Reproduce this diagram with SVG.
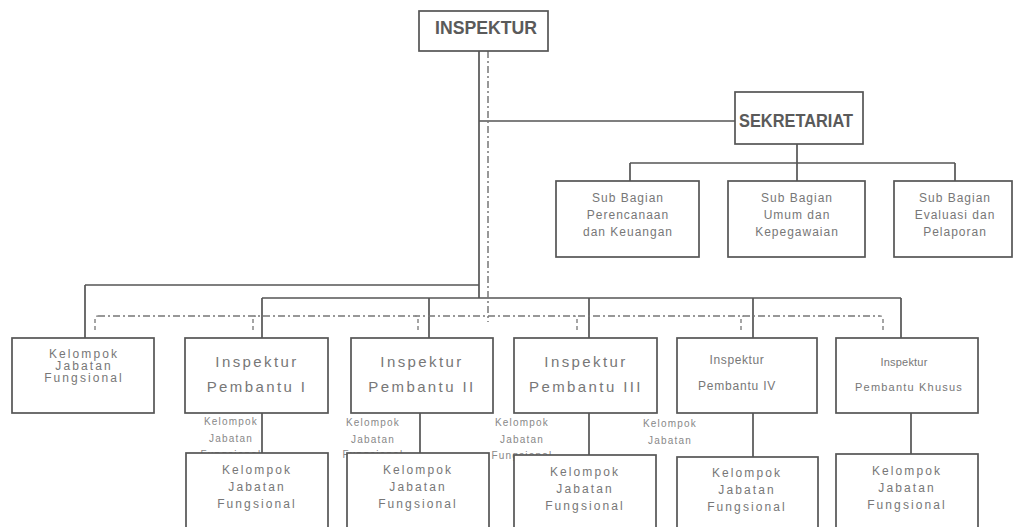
<svg xmlns="http://www.w3.org/2000/svg" width="1014" height="527" viewBox="0 0 1014 527">
<style>
.box{fill:#fff;stroke:#555;stroke-width:1.7}
.ln{fill:none;stroke:#555;stroke-width:1.7}
.dd{fill:none;stroke:#777;stroke-width:1.5;stroke-dasharray:7 3 2 3}
.hk{fill:none;stroke:#888;stroke-width:1.5;stroke-dasharray:4 3}
.b{font-family:"Liberation Sans",Arial,sans-serif;font-weight:bold;fill:#5a5a5a;text-anchor:middle}
.t{font-family:"Liberation Sans",Arial,sans-serif;fill:#777;text-anchor:middle}
.big{font-size:15px;letter-spacing:2.4px}
.kjf{font-size:12px;letter-spacing:2.1px}
.sub{font-size:12px;letter-spacing:1px}
.lab{font-size:10px;letter-spacing:1.2px;fill:#888}
</style>
<rect width="1014" height="527" fill="#fff"/>
<g id="connectors">
<path class="ln" d="M479,51 V298 M479,121 H735 M85,285 H479 M85,285 V338 M262,298 H901 M262,298 V338 M429,298 V338 M589,298 V338 M753,298 V338 M901,298 V338"/>
<path class="ln" d="M797,144 V163 M630,163 H955 M630,163 V181 M797,163 V181 M955,163 V181"/>
<path class="ln" d="M262,413 V453 M420,413 V453 M589,413 V455 M753,413 V457 M911,413 V454"/>
<path class="dd" d="M488,51 V322"/>
<path class="dd" d="M98,316 H880"/>
<path class="hk" d="M95,330 V319 Q95,316 98,316 M253,330 V319 Q253,316 256,316 M741,330 V319 Q741,316 744,316 M418,330 V319 Q418,316 415,316 M577,330 V319 Q577,316 574,316 M883,330 V319 Q883,316 880,316"/>
</g>
<g id="labels">
<text class="t lab" x="231" y="425">Kelompok</text>
<text class="t lab" x="231" y="442">Jabatan</text>
<text class="t lab" x="231" y="458">Fungsional</text>
<text class="t lab" x="373" y="426">Kelompok</text>
<text class="t lab" x="373" y="443">Jabatan</text>
<text class="t lab" x="373" y="458">Fungsional</text>
<text class="t lab" x="522" y="426">Kelompok</text>
<text class="t lab" x="522" y="443">Jabatan</text>
<text class="t lab" x="522" y="459">Fungsional</text>
<text class="t lab" x="670" y="427">Kelompok</text>
<text class="t lab" x="670" y="444">Jabatan</text>
</g>
<g id="inspektur">
<rect class="box" x="419" y="11" width="129" height="40"/>
<text class="b" x="486" y="34" font-size="19" textLength="102" lengthAdjust="spacingAndGlyphs">INSPEKTUR</text>
</g>
<g id="sekretariat">
<rect class="box" x="735" y="92" width="128" height="52"/>
<text class="b" x="796" y="127" font-size="19" textLength="114" lengthAdjust="spacingAndGlyphs">SEKRETARIAT</text>
</g>
<g id="sub-perencanaan">
<rect class="box" x="556" y="181" width="143" height="76"/>
<text class="t sub" x="628" y="202">Sub Bagian</text>
<text class="t sub" x="628" y="219">Perencanaan</text>
<text class="t sub" x="628" y="236">dan Keuangan</text>
</g>
<g id="sub-umum">
<rect class="box" x="728" y="181" width="137" height="76"/>
<text class="t sub" x="797" y="202">Sub Bagian</text>
<text class="t sub" x="797" y="219">Umum dan</text>
<text class="t sub" x="797" y="236">Kepegawaian</text>
</g>
<g id="sub-evaluasi">
<rect class="box" x="894" y="181" width="118" height="76"/>
<text class="t sub" x="955" y="202">Sub Bagian</text>
<text class="t sub" x="955" y="219">Evaluasi dan</text>
<text class="t sub" x="955" y="236">Pelaporan</text>
</g>
<g id="kjf-top">
<rect class="box" x="12" y="338" width="142" height="75"/>
<text class="t kjf" x="84" y="358" font-size="11">Kelompok</text>
<text class="t kjf" x="84" y="370" font-size="11">Jabatan</text>
<text class="t kjf" x="84" y="382" font-size="11">Fungsional</text>
</g>
<g id="ip1">
<rect class="box" x="185" y="338" width="143" height="75"/>
<text class="t big" x="257" y="367">Inspektur</text>
<text class="t big" x="257" y="392">Pembantu I</text>
</g>
<g id="ip2">
<rect class="box" x="351" y="338" width="142" height="75"/>
<text class="t big" x="422" y="367">Inspektur</text>
<text class="t big" x="422" y="392">Pembantu II</text>
</g>
<g id="ip3">
<rect class="box" x="514" y="338" width="143" height="75"/>
<text class="t big" x="586" y="367">Inspektur</text>
<text class="t big" x="586" y="392">Pembantu III</text>
</g>
<g id="ip4">
<rect class="box" x="677" y="338" width="140" height="75"/>
<text class="t" x="737" y="364" font-size="12" letter-spacing="0.6">Inspektur</text>
<text class="t" x="737" y="390" font-size="12" letter-spacing="0.8">Pembantu IV</text>
</g>
<g id="ipk">
<rect class="box" x="836" y="338" width="142" height="75"/>
<text class="t" x="904" y="366" font-size="11" letter-spacing="0.2">Inspektur</text>
<text class="t" x="909" y="391" font-size="11" letter-spacing="1.2">Pembantu Khusus</text>
</g>
<g id="kjf1">
<rect class="box" x="186" y="453" width="142" height="80"/>
<text class="t kjf" x="257" y="474">Kelompok</text>
<text class="t kjf" x="257" y="491">Jabatan</text>
<text class="t kjf" x="257" y="508">Fungsional</text>
</g>
<g id="kjf2">
<rect class="box" x="347" y="453" width="142" height="80"/>
<text class="t kjf" x="418" y="474">Kelompok</text>
<text class="t kjf" x="418" y="491">Jabatan</text>
<text class="t kjf" x="418" y="508">Fungsional</text>
</g>
<g id="kjf3">
<rect class="box" x="514" y="455" width="142" height="80"/>
<text class="t kjf" x="585" y="476">Kelompok</text>
<text class="t kjf" x="585" y="493">Jabatan</text>
<text class="t kjf" x="585" y="510">Fungsional</text>
</g>
<g id="kjf4">
<rect class="box" x="677" y="457" width="141" height="80"/>
<text class="t kjf" x="747" y="477">Kelompok</text>
<text class="t kjf" x="747" y="494">Jabatan</text>
<text class="t kjf" x="747" y="511">Fungsional</text>
</g>
<g id="kjf5">
<rect class="box" x="836" y="454" width="142" height="80"/>
<text class="t kjf" x="907" y="475">Kelompok</text>
<text class="t kjf" x="907" y="492">Jabatan</text>
<text class="t kjf" x="907" y="509">Fungsional</text>
</g>
</svg>
